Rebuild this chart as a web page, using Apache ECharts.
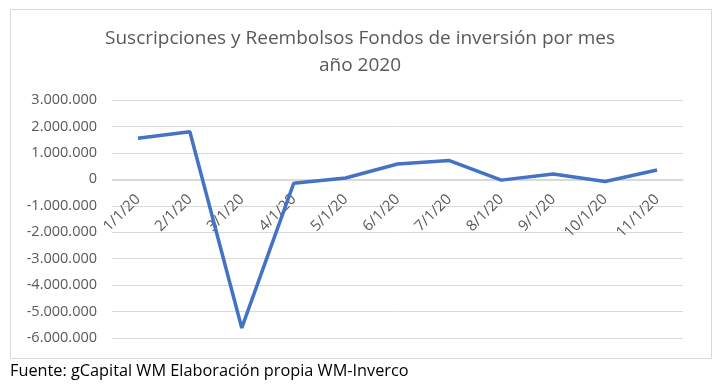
<!DOCTYPE html>
<html><head><meta charset="utf-8">
<script src="https://cdn.jsdelivr.net/npm/echarts@6/dist/echarts.min.js"></script>
<style>html,body{margin:0;padding:0;background:#fff}#c{width:720px;height:389px}</style>
</head><body><div id="c"></div>
<script>
const categories = ['1/1/20','2/1/20','3/1/20','4/1/20','5/1/20','6/1/20','7/1/20','8/1/20','9/1/20','10/1/20','11/1/20'];
const values = [1550000, 1800000, -5620000, -150000, 50000, 580000, 710000, -30000, 200000, -80000, 350000];
const titleText = 'Suscripciones y Reembolsos Fondos de inversión por mes\naño 2020';
const footerText = 'Fuente: gCapital WM Elaboración propia WM-Inverco';

function fmt(v){
  const neg = v < 0; let s = Math.abs(v).toString();
  s = s.replace(/\B(?=(\d{3})+(?!\d))/g, '.');
  return (neg ? '-' : '') + s;
}
const font = 'Open Sans';
const chart = echarts.init(document.getElementById('c'), null, {renderer:'canvas'});
chart.setOption({
  animation:false,
  backgroundColor:'#fff',
  title:{text:titleText,left:'center',top:20,textStyle:{fontFamily:font,fontSize:19,fontWeight:'normal',color:'#595959',lineHeight:27}},
  graphic:[
    {type:'rect',shape:{x:10.5,y:9.5,width:701,height:349},style:{fill:'none',stroke:'#d9d9d9',lineWidth:1},silent:true},
    {type:'text',left:10,top:363,style:{text:footerText,fontFamily:font,fontSize:16.3,fill:'#000'}}
  ],
  grid:{left:112,right:37,top:100,bottom:51},
  xAxis:{type:'category',data:categories,boundaryGap:true,offset:-158,
    axisLine:{onZero:false,lineStyle:{color:'#d9d9d9'}},axisTick:{show:false},
    axisLabel:{rotate:45,margin:17,fontFamily:font,fontSize:15,color:'#595959',interval:0},
    splitLine:{show:false}},
  yAxis:{type:'value',min:-6000000,max:3000000,interval:1000000,
    axisLine:{show:false},axisTick:{show:false},
    axisLabel:{formatter:fmt,margin:15,fontFamily:font,fontSize:14.5,color:'#595959'},
    splitLine:{lineStyle:{color:'#d9d9d9',width:1}}},
  series:[{type:'line',data:values,symbol:'none',lineStyle:{color:'#4472C4',width:3.5},itemStyle:{color:'#4472C4'}}]
});
</script></body></html>
